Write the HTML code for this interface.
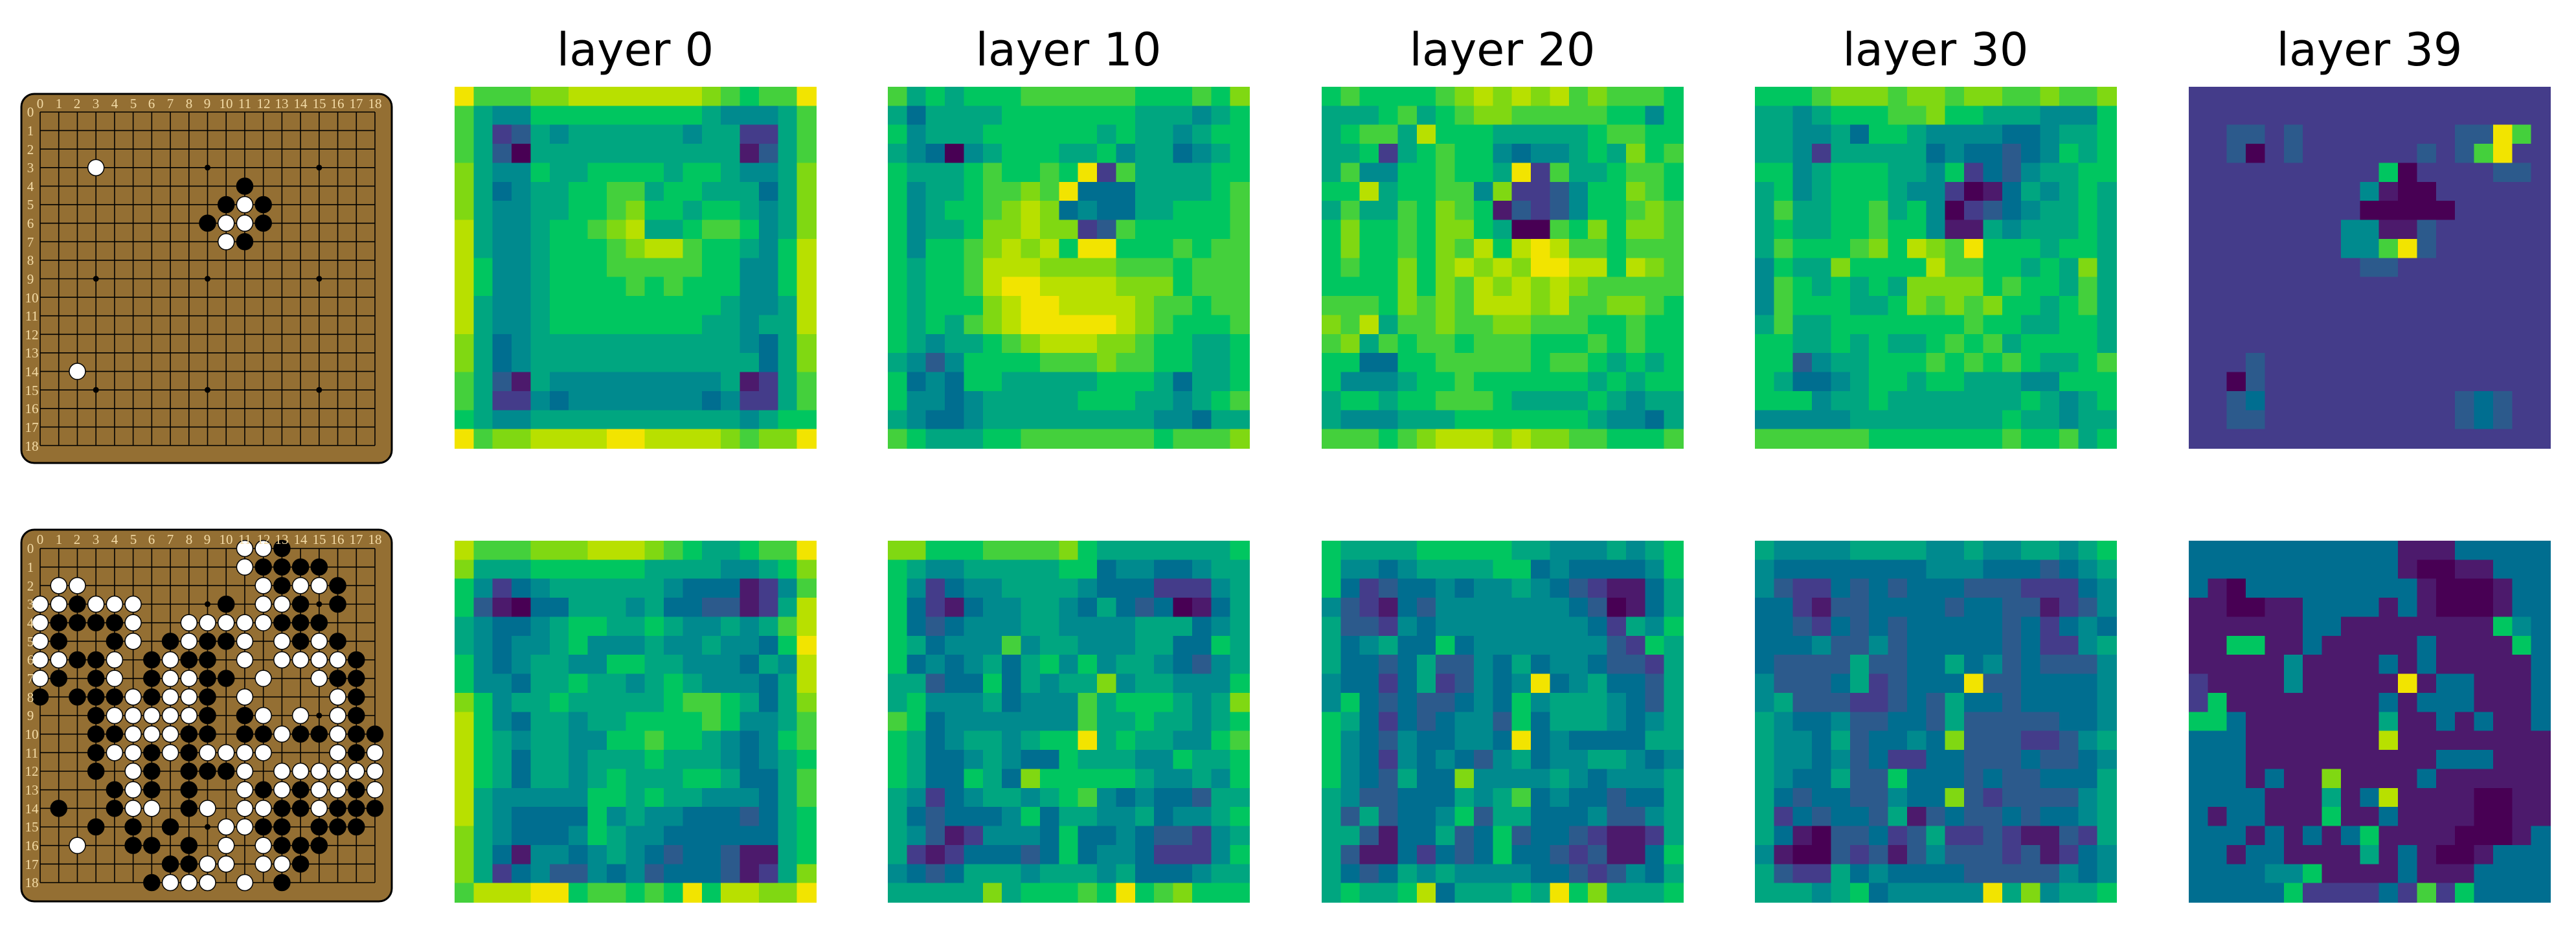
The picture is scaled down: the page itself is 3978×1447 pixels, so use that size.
<!DOCTYPE html>
<html><head><meta charset="utf-8">
<style>
html,body{margin:0;padding:0;background:#fff;}
svg{display:block;}
.t{font-family:"DejaVu Sans","Liberation Sans",sans-serif;font-size:70px;fill:#000;text-anchor:middle;}
.n{font-family:"Liberation Serif",serif;font-size:21px;fill:#f3dba6;text-anchor:middle;}
</style></head>
<body>
<svg id="s" width="3978" height="1447" viewBox="0 0 3978 1447" xmlns="http://www.w3.org/2000/svg">
<rect x="0" y="0" width="3978" height="1447" fill="#fff"/>
<g id="maps" shape-rendering="crispEdges"></g>
<rect x="33" y="145" width="572" height="570" rx="20" fill="#946f33" stroke="#000" stroke-width="3"/>
<rect x="33" y="818" width="572" height="574" rx="20" fill="#946f33" stroke="#000" stroke-width="3"/>
<g id="b1"></g><g id="b2"></g>
<text class="t" x="981" y="101">layer 0</text>
<text class="t" x="1650" y="101">layer 10</text>
<text class="t" x="2320" y="101">layer 20</text>
<text class="t" x="2989" y="101">layer 30</text>
<text class="t" x="3659" y="101">layer 39</text>
<g>
<text class="n" x="62" y="167">0</text><text class="n" x="91" y="167">1</text><text class="n" x="119" y="167">2</text><text class="n" x="148" y="167">3</text><text class="n" x="177" y="167">4</text><text class="n" x="206" y="167">5</text><text class="n" x="234" y="167">6</text><text class="n" x="263" y="167">7</text><text class="n" x="292" y="167">8</text><text class="n" x="320" y="167">9</text><text class="n" x="349" y="167">10</text><text class="n" x="378" y="167">11</text><text class="n" x="407" y="167">12</text><text class="n" x="435" y="167">13</text><text class="n" x="464" y="167">14</text><text class="n" x="493" y="167">15</text><text class="n" x="521" y="167">16</text><text class="n" x="550" y="167">17</text><text class="n" x="579" y="167">18</text>
<text class="n" x="47" y="180">0</text><text class="n" x="47" y="209">1</text><text class="n" x="47" y="238">2</text><text class="n" x="47" y="266">3</text><text class="n" x="47" y="295">4</text><text class="n" x="47" y="323">5</text><text class="n" x="47" y="352">6</text><text class="n" x="47" y="381">7</text><text class="n" x="47" y="409">8</text><text class="n" x="47" y="438">9</text><text class="n" x="49" y="467">10</text><text class="n" x="49" y="495">11</text><text class="n" x="49" y="524">12</text><text class="n" x="49" y="552">13</text><text class="n" x="49" y="581">14</text><text class="n" x="49" y="610">15</text><text class="n" x="49" y="638">16</text><text class="n" x="49" y="667">17</text><text class="n" x="49" y="696">18</text>
<text class="n" x="62" y="840">0</text><text class="n" x="91" y="840">1</text><text class="n" x="119" y="840">2</text><text class="n" x="148" y="840">3</text><text class="n" x="177" y="840">4</text><text class="n" x="206" y="840">5</text><text class="n" x="234" y="840">6</text><text class="n" x="263" y="840">7</text><text class="n" x="292" y="840">8</text><text class="n" x="320" y="840">9</text><text class="n" x="349" y="840">10</text><text class="n" x="378" y="840">11</text><text class="n" x="407" y="840">12</text><text class="n" x="435" y="840">13</text><text class="n" x="464" y="840">14</text><text class="n" x="493" y="840">15</text><text class="n" x="521" y="840">16</text><text class="n" x="550" y="840">17</text><text class="n" x="579" y="840">18</text>
<text class="n" x="47" y="854">0</text><text class="n" x="47" y="883">1</text><text class="n" x="47" y="912">2</text><text class="n" x="47" y="940">3</text><text class="n" x="47" y="969">4</text><text class="n" x="47" y="998">5</text><text class="n" x="47" y="1026">6</text><text class="n" x="47" y="1055">7</text><text class="n" x="47" y="1084">8</text><text class="n" x="47" y="1112">9</text><text class="n" x="49" y="1141">10</text><text class="n" x="49" y="1170">11</text><text class="n" x="49" y="1198">12</text><text class="n" x="49" y="1227">13</text><text class="n" x="49" y="1256">14</text><text class="n" x="49" y="1284">15</text><text class="n" x="49" y="1313">16</text><text class="n" x="49" y="1342">17</text><text class="n" x="49" y="1370">18</text>
</g>
</svg>
<script>
var C={a:"#480054",b:"#4c1a6c",c:"#443c8a",d:"#2c5a8c",e:"#006e90",f:"#008a8e",g:"#00a680",h:"#00c660",i:"#44d03c",j:"#80d812",k:"#b8e000",l:"#f2e400"};
var M=[
["liiijjkkkkkkkjihiil","igffhhhhhhhhhgfffgi","igcdgfggggggfggccgi","igdagggggggggggbdgi","jgffhgghhhhghhgffgj","jgefgghhiighhgggegj","jgffgghhijhhghhgfgj","kgffghhijkgghiihfgj","kgffghhhijkkihhgfhk","khffghhhiiiiihhffhk","khffghhhhihihhhffhk","kgffghhhhhhhhhgffgk","kgffghhhhhhhhggfggk","jgefgggggggggggfegj","jgefggggggggggggegj","igdbgfffffffffgbcgi","igccfefffffffefccgi","hgffgggggggggggfghh","lijjkkkkllkkkkjijjl"],
["ighghhhiiiiiihhhihj","gegggghhhhhhhgggfgh","hfggghhhhhhghggfghh","gfeafghhhgghfggefgh","hggghihhihlcigggghh","hfgghiijileeegggghi","hfghhijkjefeegghhhi","hfgghjjkjjcdihhhhhi","hfhhijkjkhllhhhihii","hghhikkkjjjjiiihiii","hghhikllkkkkjjjhiii","hghhhjkllkkkkjiihii","hghgijklllllkjihhhi","hgfgghijkkkjjihhggh","gfdfhhhhiiijiihhggh","hefehhggggghhhgeggh","hffefggggghhhggfghi","gfeefgggggggggffegg","ihggghhiiiiiiihiiij"],
["hihhhhijkjkjkijiiih","ggghighijjiiiiihhfh","ghiigkhhhggggghiihh","gghcghihhfeffghgjhi","giffhhihhglcigghiih","hhkghhiifjccdfhhjih","giggihjihbdcdfhhiji","hjhhihjjhgaaihjhjji","hjhhihjikhklkiihiii","hihhjhjkjkjllkkhkji","hhhhjhjikjkjkjiiiii","iiihjijikkkjkiijjih","jikgiijiijjiiihhihh","ijgihiihiiihhhihihh","hheehhiiiiihiihghgh","hfffghhihhhhhhghghh","ghhghhiiihgggghgfgg","gfffggghhhhhhhgffeg","iiihijkkkjkjjiihhhi"],
["hhhijjjijjijjiijiij","ggfghhhiijhhgggfffh","ggffgehhgffffeefggh","ggfcgggggefeedefhgh","hhfghhhggfhcedfgghh","ghfghhhgffcabegfghg","gigghhighfacdefgghg","ghgghhihhfbbgfggghg","gihhhijhkjilhhhghhg","fhggjhhhhkiihhghgjg","fihghghgjjjjhihhgig","fihhhgghjijijhhghig","gigghhhhhhhihhgghhg","hhgghghgghihighhhhg","hhdfgghhhihihihgghi","hgeefghhghhgggffhhh","hhhfgghggggggghgfgh","fffffgggggggghggfgg","iiiiiihhhhhhhihhigh"],
["ccccccccccccccccccc","ccccccccccccccccccc","ccddcdccccccccddlic","ccdacdccccccdcdilcc","cccccccccchaccccddcc","cccccccccfbaacccccc","cccccccccaaaaaccccc","ccccccccffbbdcccccc","ccccccccffildcccccc","cccccccccddcccccccc","ccccccccccccccccccc","ccccccccccccccccccc","ccccccccccccccccccc","ccccccccccccccccccc","cccdccccccccccccccc","ccadccccccccccccccc","ccdeccccccccccdedcc","ccddccccccccccdedcc","ccccccccccccccccccc"],
["kiiijjjkkkjihgghiil","jggghhhhhhggggffghj","hfcefggggggfeeebcfi","hdbaeegggfgeeddbcgk","gfeefghhgghgffgfgik","gfeffghfffgffgffehl","hfefggffhhggfffegfk","hffegghggfghgfffegk","jhfgghggggghiihgegj","khfeggfgghhhhihffgi","khgfggffhhihhgfefhi","khgeggfggghgggfefgh","khgeggfghggghhgeegi","kgfffffhhghggfffegi","kgfeeeehfgffeeedegh","jgfeeefhgffeeeeeegh","jgebffefgfedeedbbgh","jgcefddfefdeeedbcgj","ikkkllhiihihlhkkjjl"],
["jjhhhiiiijhgggggggh","hgffggggghheffeefgg","hfceffggggfeeecccfg","hecbeffggfegedeabeg","hedefffggffffgggefg","hgefffifggfffggeehg","hefefgeghfhfggfedfg","ggdeehegfggjfggfffh","ghfffgefffighhhgfgj","ihefffffffigghggfgh","hgefggfghhlghggffhi","hgeefgfeehgggffhggh","hgeehgejhhhhhgffgfh","gfcefggfghifefeedgg","gedeeefheggffgeffgh","gfdbcfffeheefeddcfg","gcbceeedeheffecccfh","fedegggfgggfgeeefgg","gggggjghhhihlhijhhh"],
["hgggghhhhhggfffgfgh","hffefgggghhefeeeefh","hecdeefeffgfedcbbeg","fdcbedfffffffedabeg","gddcfeffffffffecgfh","gefgeehefffffffdchg","geedegddfegeffeddcg","feecegcdfeflefgeedg","fhededdefehfgggfedg","hgecedeffdhegggfefg","hfedfeeffelefeeeegg","hfecfefedfgeffggfef","hfedgeejffffgfefffg","gfddeeegfgiefeedeeg","gdgdeefhdggeeefddfg","ggdbeegdehdeedcbbcg","gdbbecedeheedcdbbeh","gedegfgffffeedcdfeg","ghgghkeggghglhjgggh"],
["gffffggggffgffggfgh","feeeeeeeefffeeedefg","fdccededeeedddcccef","eecbddeeeedeeddbcdf","eedcededeeeeedecefe","eeefddfdeeeeedeccfg","eddddgddeegefdedddf","fdddegcdeeelddeeeef","fgdddccdedgeedeeeef","gfeefddeedgdddddeef","gffegdeefejdddccdfg","gffefdecceedddeddef","gfeegddheeededdeeeg","gedeeddfeejdcddddfg","gcedeedgbdeddedeefg","gebaddecdgccdcbbdcg","fbaadcdbdfdddcdbcef","gdccgefeeeedddddfef","gggfgheffffflgjfggh"],
["eeeeeeeeeeebbbeeeee","eeeeeeeeeeebaabbeee","ebaeeeeeeeeebaaabee","bbaabbeeeebebaaabee","bbbbbbeebbbbbbbbhfe","bbhhbbebbbbbebbbbhe","bbbbbfbbbbebebbbbbe","cbbbbfbbbbblbeebbbe","chbbbbbbbbebeeebbbe","hhebbbbbbbgbbebebbe","eeebbbbbbbkbbbbbbbb","eeebbbbbbbbbbeeebbb","eeebebbjbbbbebbbbbb","eeeebbbgbekbbbbaabb","ebeebbbhbbebbbbaabb","eeebebebehbbbbaaabe","eebeebbbbgbebaabeee","eeeeffhbbbbebbbeeee","eeeeehccccecicheeee"]
];
var NS="http://www.w3.org/2000/svg";
function el(t,a,p){var e=document.createElementNS(NS,t);for(var k in a)e.setAttribute(k,a[k]);p.appendChild(e);return e;}
var g=document.getElementById("maps");
var xs=[702,1371,2041,2710,3380],W=558,H=558,ys=[134,835];
for(var m=0;m<10;m++){var x0=xs[m%5],y0=ys[Math.floor(m/5)],cw=W/19,ch=H/19;
 for(var r=0;r<19;r++){var row=M[m][r];for(var c=0;c<19;c++){var ch_=row.charAt(c)||row.charAt(row.length-1);
  el("rect",{x:(x0+c*cw).toFixed(2),y:(y0+r*ch).toFixed(2),width:(cw+0.8).toFixed(2),height:(ch+0.8).toFixed(2),fill:C[ch_]||C.g},g);}}}
function board(id,gy0,gy1,stones,stars){var p=document.getElementById(id);var gx0=62,gx1=579,dx=(gx1-gx0)/18,dy=(gy1-gy0)/18;
 for(var i=0;i<19;i++){el("line",{x1:gx0+i*dx,y1:gy0,x2:gx0+i*dx,y2:gy1,stroke:"#000","stroke-width":1.6},p);
  el("line",{x1:gx0,y1:gy0+i*dy,x2:gx1,y2:gy0+i*dy,stroke:"#000","stroke-width":1.6},p);}
 stars.forEach(function(s){el("circle",{cx:gx0+s[0]*dx,cy:gy0+s[1]*dy,r:4.5,fill:"#000"},p);});
 stones.forEach(function(s){el("circle",{cx:gx0+s[0]*dx,cy:gy0+s[1]*dy,r:12.5,fill:s[2]?"#fff":"#000",stroke:"#000","stroke-width":1.5},p);});}
var st=[[9,3],[15,3],[3,9],[9,9],[15,9],[3,15],[9,15],[15,15]];
board("b1",173,688,[[3,3,1],[2,14,1],[11,4,0],[10,5,0],[11,5,1],[12,5,0],[9,6,0],[10,6,1],[11,6,1],[12,6,0],[10,7,1],[11,7,0]],st);
var B2={0:"W11 W12 B13",1:"W11 B12 B13 B14 B15",2:"W1 W2 W12 B13 W14 W15 B16",3:"W0 W1 B2 W3 W4 W5 B10 W12 W13 B14 B16",4:"W0 B1 B2 B3 B4 W5 W8 W9 W10 W11 W12 B13 B14 B15",5:"W0 B1 B4 W5 B7 W8 B9 B10 W11 W13 B14 W15 B16",6:"W0 W1 B2 B3 W4 B6 W7 B8 B9 W11 W13 W14 W15 W16 B17",7:"W0 B1 B3 W4 B6 W7 W8 B9 B10 W12 W15 B16 B17",8:"B0 B2 B3 B4 W5 B6 W7 W8 B9 W11 W16 B17",9:"B3 W4 W5 W6 W7 W8 B9 B11 W12 W14 W16 B17",10:"B3 B4 W5 W6 W7 B8 B9 B11 B12 W13 B14 B15 W16 B17 B18",11:"B3 W4 W5 B6 W7 B8 W9 W10 W11 W12 W16 B17 W18",12:"B3 W5 B6 B8 B9 B10 W11 W13 W14 W15 W16 W17 W18",13:"B4 W5 B6 B8 W11 B12 W13 B14 W15 W16 B17 W18",14:"B1 B4 W5 W6 B8 W9 W11 W12 B13 B14 W15 B16 B17 B18",15:"B3 B5 B7 W10 W11 B12 B13 B15 B16 B17",16:"W2 B5 B6 B8 W10 W12 B13 B14 B15",17:"B7 B8 W9 W10 W12 W13 B14",18:"B6 W7 W8 W9 W11 B13"};
var s2=[];for(var r in B2){B2[r].split(" ").forEach(function(t){s2.push([+t.slice(1),+r,t[0]=="W"?1:0]);});}
board("b2",847,1363,s2,st);
</script>
</body></html>
